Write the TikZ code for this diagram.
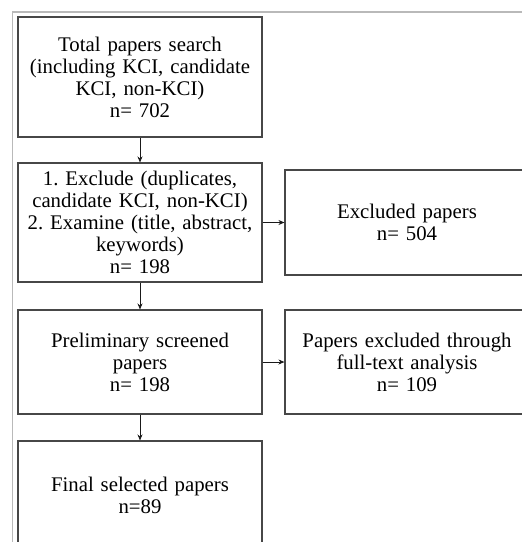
\documentclass[tikz,border=0pt]{standalone}
\usepackage{fontspec}
\setmainfont{Liberation Serif}
\usetikzlibrary{arrows.meta}
\begin{document}
\frenchspacing
\begin{tikzpicture}[x=1pt,y=-1pt,
  box/.style={draw=black!72, line width=1.1pt, align=center,
    font=\fontsize{20.8}{22}\selectfont, inner sep=0pt,
    text width=240pt, minimum width=244pt},
  conn/.style={draw=black!90, line width=0.8pt, -{Stealth[length=6pt,width=5pt]}},
  frame/.style={draw=gray!55, line width=1.3pt}]
\useasboundingbox (0,0) rectangle (522,542);
\begin{scope}
\clip (0,0) rectangle (522,542);
\draw[frame] (12.5,560) -- (12.5,12) -- (540,12);
\node[box, minimum height=120pt] (total) at (140,77)
  {Total papers search\\(including KCI, candidate\\KCI, non-KCI)\\n= 702};
\node[box, minimum height=119pt] (excl) at (140,222.5)
  {1. Exclude (duplicates,\\candidate KCI, non-KCI)\\2. Examine (title, abstract,\\keywords)\\n= 198};
\node[box, minimum height=105pt] (exclp) at (407,222.5)
  {Excluded papers\\n= 504};
\node[box, minimum height=104pt] (prelim) at (140,362)
  {Preliminary screened\\papers\\n= 198};
\node[box, minimum height=104pt] (full) at (407,362)
  {Papers excluded through\\full-text analysis\\n= 109};
\node[box, minimum height=108pt] (final) at (140,495)
  {Final selected papers\\n=89};
\draw[conn] (total) -- (excl);
\draw[conn] (excl) -- (exclp);
\draw[conn] (excl) -- (prelim);
\draw[conn] (prelim) -- (full);
\draw[conn] (prelim) -- (final);
\end{scope}
\end{tikzpicture}
\end{document}
